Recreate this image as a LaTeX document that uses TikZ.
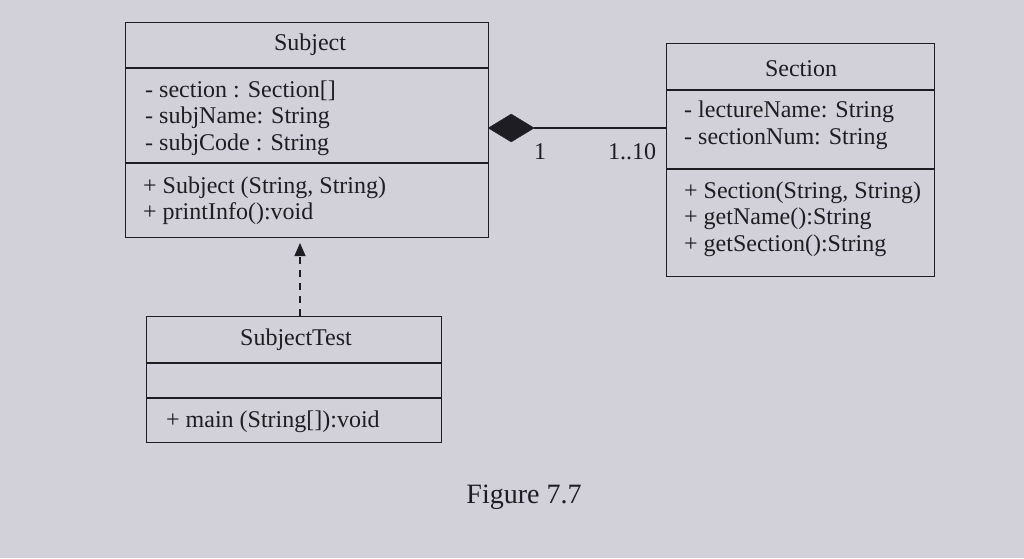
\documentclass[tikz,border=0pt]{standalone}
\usepackage{fontspec}
\setmainfont{Liberation Serif}
\usetikzlibrary{arrows.meta,shapes.geometric}
\definecolor{paper}{RGB}{210,209,218}
\definecolor{ink}{RGB}{30,30,34}
\begin{document}
\begin{tikzpicture}[x=1pt,y=-1pt,
  classbox/.style={draw=ink,line width=1.1pt,rectangle,inner sep=0pt,anchor=north west},
  divider/.style={draw=ink,line width=1.1pt},
  title/.style={font=\fontsize{24}{26}\selectfont,text=ink},
  member/.style={font=\fontsize{24}{26}\selectfont,text=ink,anchor=west,inner sep=0pt},
  mult/.style={font=\fontsize{24}{26}\selectfont,text=ink,inner sep=0pt},
  conn/.style={draw=ink,line width=1.1pt}]
\fill[paper] (0,0) rectangle (1024,558);
\useasboundingbox (0,0) rectangle (1024,558);
% Subject
\node[classbox,minimum width=363pt,minimum height=215pt] (subj) at (125,22) {};
\draw[divider] (125,68) -- (488,68);
\draw[divider] (125,163) -- (488,163);
\node[title] (subjT) at (310,45) {Subject};
\node[member] (s1) at (145,91) {- section : Section[]};
\node[member] (s2) at (145,118) {- subjName: String};
\node[member] (s3) at (145,145) {- subjCode : String};
\node[member] (s4) at (143,188) {+ Subject (String, String)};
\node[member] (s5) at (143,214) {+ printInfo():void};
% Section
\node[classbox,minimum width=268pt,minimum height=233pt] (sec) at (666,43) {};
\draw[divider] (666,90) -- (934,90);
\draw[divider] (666,169) -- (934,169);
\node[title] (secT) at (801,69) {Section};
\node[member] (c1) at (684,112) {- lectureName: String};
\node[member] (c2) at (684,139) {- sectionNum: String};
\node[member] (c3) at (684,193) {+ Section(String, String)};
\node[member] (c4) at (684,219) {+ getName():String};
\node[member] (c5) at (684,246) {+ getSection():String};
% SubjectTest
\node[classbox,minimum width=295pt,minimum height=126pt] (test) at (146,316) {};
\draw[divider] (146,363) -- (441,363);
\draw[divider] (146,398) -- (441,398);
\node[title] (testT) at (296,340) {SubjectTest};
\node[member] (t1) at (166,422) {+ main (String[]):void};
% composition
\coordinate (dl) at (488,128);
\node[diamond,fill=ink,draw=ink,inner sep=0pt,minimum width=46pt,minimum height=28pt,anchor=west] (dia) at (dl) {};
\coordinate (sr) at (666,128);
\draw[conn] (dia.east) -- (sr);
\node[mult] (m1) at (540,152) {1};
\node[mult] (m2) at (632,152) {1..10};
% dependency
\coordinate (dtop) at (300,243);
\draw[conn,dashed,dash pattern=on 7pt off 6pt,-{Triangle[length=13pt,width=11pt]}] (test.north -| dtop) -- (dtop);
% caption
\node[font=\fontsize{28}{31}\selectfont,text=ink] (cap) at (524,497) {Figure 7.7};
\end{tikzpicture}
\end{document}
